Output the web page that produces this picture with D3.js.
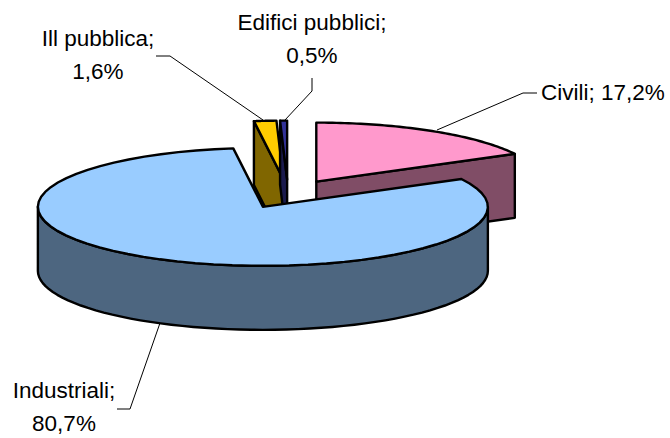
<!DOCTYPE html>
<html lang="en">
<head>
    <meta charset="UTF-8">
    <title>Consumi</title>
    <script src="https://d3js.org/d3.v7.min.js"></script>
    <style>
        body { margin: 0; background: #fff; }
        svg { display: block; }
        text { font-family: "Liberation Sans", Arial, sans-serif; font-size: 22.5px; fill: #000; }
    </style>
</head>
<body>
    <div id="chart"></div>
    <script>
        const categories = ["Civili", "Industriali", "Ill pubblica", "Edifici pubblici"];
        const values = [17.2, 80.7, 1.6, 0.5];
        const valueLabels = ["17,2%", "80,7%", "1,6%", "0,5%"];
        const topColors = ["#FF99CC", "#99CCFF", "#FFCC00", "#333399"];
        const sideColors = ["#804D66", "#4D6680", "#806600", "#1A1A4D"];

        const width = 670, height = 438;
        const cx = 288, cy = 194, rx = 225, ry = 59, depth = 64, explode = 55;

        const svg = d3.select("#chart").append("svg")
            .attr("width", width)
            .attr("height", height);

        // unit circle coords -> flattened pie
        const x = d3.scaleLinear().domain([-1, 1]).range([cx - rx, cx + rx]);
        const y = d3.scaleLinear().domain([-1, 1]).range([cy + ry, cy - ry]);

        const slices = d3.pie().sort(null).value(d => d)(values).map((s, i) => {
            const mid = (s.startAngle + s.endAngle) / 2;
            return {
                start: s.startAngle,
                end: s.endAngle,
                i: i,
                ox: Math.sin(mid) * explode / rx,
                oy: Math.cos(mid) * explode / rx
            };
        });

        const line = d3.line();
        const px = (s, a, r, dy) => [
            x(s.ox + r * Math.sin(a)),
            y(s.oy + r * Math.cos(a)) + dy
        ];
        const arcPts = (s, a0, a1, dy) => d3.range(0, 61).map(k =>
            px(s, a0 + (a1 - a0) * k / 60, 1, dy));

        function draw(pts, fill) {
            svg.append("path")
                .attr("d", line(pts) + "Z")
                .attr("fill", fill)
                .attr("stroke", "#000")
                .attr("stroke-width", 2.4)
                .attr("stroke-linejoin", "round");
        }

        // back to front: small slices and civili first, industriali last
        [2, 3, 0, 1].forEach(i => {
            const s = slices[i];
            const side = sideColors[i];
            const apex = px(s, 0, 0, 0);
            const apexLow = px(s, 0, 0, depth);
            const a = px(s, s.start, 1, 0), aLow = px(s, s.start, 1, depth);
            const b = px(s, s.end, 1, 0), bLow = px(s, s.end, 1, depth);
            if (i === 0) {
                draw([apex, b, bLow, apexLow], side);
            } else if (i === 1) {
                // outer wall, only the front half shows
                const from = Math.PI / 2, to = Math.PI * 1.5;
                draw(arcPts(s, from, to, 0).concat(arcPts(s, to, from, depth)), side);
            } else {
                draw([apex, a, aLow, apexLow], side);
            }
            draw([apex].concat(arcPts(s, s.start, s.end, 0)), topColors[i]);
        });

        // labels with leader lines
        const labels = [
            { i: 0, lines: [categories[0] + "; " + valueLabels[0]], tx: 541, ty: 100, leader: [[437, 130], [523, 93], [537, 93]] },
            { i: 1, lines: [categories[1] + ";", valueLabels[1]], tx: 64, ty: 398, leader: [[160, 323], [130, 409], [117, 409]] },
            { i: 2, lines: [categories[2] + ";", valueLabels[2]], tx: 98, ty: 46, leader: [[263, 120], [170, 56], [156, 56]] },
            { i: 3, lines: [categories[3] + ";", valueLabels[3]], tx: 312, ty: 30, leader: [[285, 120], [312, 91], [312, 78]] }
        ];
        labels.forEach(l => {
            svg.append("path")
                .attr("d", line(l.leader))
                .attr("fill", "none")
                .attr("stroke", "#000")
                .attr("stroke-width", 1);
            const t = svg.append("text")
                .attr("text-anchor", l.lines.length > 1 ? "middle" : "start");
            l.lines.forEach((txt, k) => {
                t.append("tspan").attr("x", l.tx).attr("y", l.ty + k * 33).text(txt);
            });
        });
    </script>
</body>
</html>
